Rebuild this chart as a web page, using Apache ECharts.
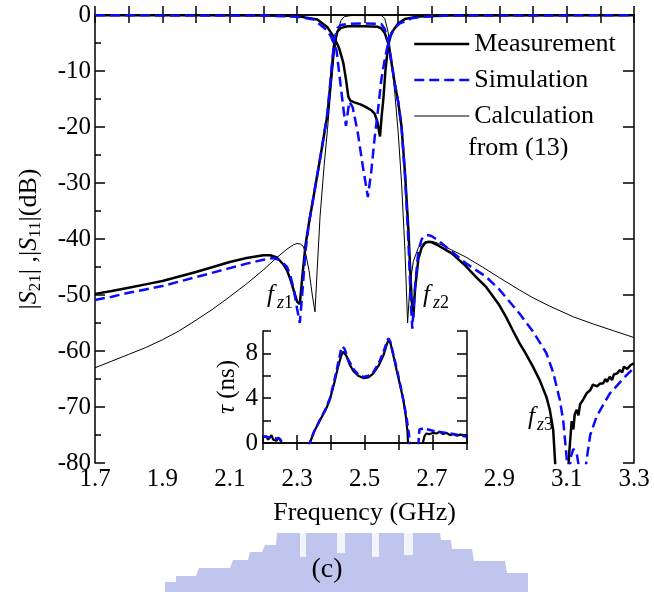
<!DOCTYPE html>
<html>
<head>
<meta charset="utf-8">
<script src="https://cdn.jsdelivr.net/npm/echarts@6/dist/echarts.min.js"></script>
<style>
  html, body { margin: 0; padding: 0; background: #fff; }
  #main { width: 654px; height: 592px; }
</style>
</head>
<body>
<div id="main"></div>
<script>
// ---- data (GHz, dB / ns) ----
const measS21F = [1.70,1.75,1.80,1.85,1.90,1.95,2.00,2.05,2.10,2.15,2.20,2.22,2.24,2.26,2.27,2.28,2.29,2.30,2.308,2.315,2.325,2.335,2.35,2.37,2.39,2.40,2.41,2.42,2.43,2.45,2.50,2.54,2.55,2.56,2.57,2.58,2.59,2.60,2.61,2.62,2.63,2.64,2.645,2.65,2.66,2.67,2.68,2.69,2.70,2.72,2.74,2.76,2.80,2.83,2.86,2.90,2.92,2.94,2.96,2.98,3.00,3.02,3.04,3.05,3.06,3.07,3.08,3.09,3.10,3.108,3.115,3.12,3.124,3.13,3.135,3.14,3.148,3.155,3.16,3.17,3.178,3.19,3.20,3.208,3.215,3.22,3.228,3.235,3.24,3.25,3.258,3.265,3.27,3.28,3.29,3.30];
const measS21 = [-49.8,-49.3,-48.7,-48.1,-47.5,-46.7,-45.9,-45.0,-44.1,-43.4,-42.9,-42.9,-43.3,-44.6,-45.6,-47.2,-49.2,-51.2,-51.6,-47,-41,-37.2,-32,-25,-17.8,-11.5,-5,-2.9,-2.3,-2.0,-2.0,-2.1,-2.4,-3.2,-5,-8.5,-12.3,-15.5,-20,-28,-38,-51,-54,-49,-43.5,-41.5,-40.7,-40.5,-40.6,-41.2,-41.9,-42.6,-44.8,-46.7,-48.5,-51.8,-53.9,-56.3,-58.6,-60.6,-62.8,-65.2,-68.2,-70.5,-74,-84,-95,-95,-86,-78,-72.5,-74,-71.3,-70.5,-71.5,-69.5,-68.8,-68,-67.5,-67,-66,-66.3,-65.8,-65.8,-65,-65.5,-64.6,-65.2,-64.2,-64.0,-63.4,-63.8,-62.8,-63.2,-62.5,-62.2];

const measS11F = [1.70,2.00,2.20,2.30,2.36,2.39,2.41,2.425,2.437,2.445,2.452,2.458,2.47,2.49,2.506,2.52,2.53,2.538,2.546,2.551,2.556,2.562,2.57,2.58,2.60,2.62,2.66,2.75,3.30];
const measS11 = [-0.05,-0.05,-0.1,-0.2,-0.8,-2.2,-4.0,-6,-8.5,-11.5,-14.6,-15.3,-15.6,-16.0,-16.5,-17.0,-17.6,-19,-21.7,-18,-15,-10,-5.5,-3.2,-1.5,-0.7,-0.25,-0.1,-0.05];

const simS21F = [1.70,1.75,1.80,1.85,1.90,1.95,2.00,2.05,2.10,2.15,2.20,2.23,2.25,2.27,2.28,2.29,2.30,2.308,2.315,2.325,2.335,2.35,2.37,2.39,2.40,2.41,2.42,2.43,2.45,2.50,2.55,2.56,2.57,2.58,2.59,2.60,2.61,2.62,2.63,2.638,2.642,2.648,2.66,2.67,2.68,2.69,2.70,2.72,2.76,2.80,2.86,2.90,2.96,3.00,3.04,3.06,3.08,3.09,3.10,3.105,3.112,3.12,3.13,3.14,3.15,3.158,3.17,3.189,3.228,3.278,3.30];
const simS21 = [-50.9,-50.3,-49.6,-49.0,-48.4,-47.6,-46.8,-46.0,-45.2,-44.4,-43.7,-43.4,-43.8,-45.0,-46.5,-49,-52.5,-55,-50,-42,-37.2,-32,-25,-17.5,-11,-4.5,-2.3,-1.8,-1.6,-1.5,-1.6,-2.5,-4.5,-8.3,-12.3,-15.5,-20,-28.5,-40,-52,-56,-50,-42,-40,-39.4,-39.3,-39.5,-40.3,-42.3,-44.3,-46.7,-49,-53.3,-56.5,-60.4,-63.8,-68.8,-72.5,-79,-85,-79,-77.5,-78.3,-82,-88,-80,-75,-71.7,-67.6,-64.3,-63];

const simS11F = [1.70,2.20,2.30,2.35,2.388,2.40,2.417,2.43,2.44,2.445,2.45,2.455,2.465,2.48,2.495,2.51,2.52,2.53,2.54,2.55,2.56,2.566,2.575,2.59,2.605,2.64,2.675,2.75,3.30];
const simS11 = [-0.05,-0.1,-0.3,-0.8,-2.7,-3.8,-6.3,-13,-18,-19.8,-17.5,-15.5,-16.5,-21,-27,-32.5,-28,-22,-17,-11.5,-8,-6.2,-3.9,-2.3,-1.5,-0.6,-0.3,-0.1,-0.05];

const calcS21F = [1.70,1.75,1.80,1.85,1.90,1.95,2.00,2.05,2.10,2.15,2.20,2.24,2.27,2.29,2.30,2.31,2.318,2.325,2.335,2.345,2.353,2.36,2.368,2.38,2.39,2.40,2.41,2.42,2.43,2.44,2.46,2.55,2.56,2.57,2.58,2.59,2.60,2.61,2.62,2.628,2.635,2.645,2.66,2.68,2.70,2.72,2.76,2.80,2.85,2.90,2.96,3.00,3.05,3.12,3.18,3.24,3.30];
const calcS21 = [-63.0,-61.8,-60.6,-59.4,-58.0,-56.4,-54.5,-52.5,-50.3,-48.0,-45.5,-43.3,-41.8,-41.0,-40.8,-40.9,-41.3,-42.5,-45.5,-50,-53,-45,-36,-27,-20.5,-13.5,-7,-3,-1,-0.3,-0.1,-0.1,-0.6,-3,-8,-14,-21,-30,-42,-55,-48,-44,-41.5,-40.5,-40.4,-40.8,-42,-43.2,-45.0,-46.9,-49.1,-50.5,-52.0,-53.9,-55.2,-56.4,-57.6];

const measTauF = [2.20,2.205,2.21,2.215,2.22,2.225,2.23,2.24,2.245,2.25,2.255,2.265,2.33,2.338,2.35,2.368,2.385,2.397,2.41,2.42,2.43,2.436,2.445,2.455,2.466,2.48,2.495,2.51,2.524,2.54,2.554,2.565,2.569,2.575,2.585,2.593,2.603,2.613,2.62,2.625,2.628,2.66,2.67,2.675,2.68,2.69,2.70,2.71,2.72,2.73,2.74,2.75,2.76,2.77,2.78,2.79,2.80];
const measTau = [0.5,0.4,0.6,0.3,0.5,0.7,0.3,0.2,0.5,0.3,0,-2,-2,0,1.0,2.05,3.0,3.9,5.4,6.7,7.8,8.15,7.8,7.0,6.4,6.0,5.8,5.85,6.2,6.9,7.8,8.9,9.2,8.9,7.6,6.5,5.2,3.8,2.4,1.0,-1,-2,0,0.6,0.85,0.8,0.9,0.85,1.0,0.8,0.9,0.7,0.8,0.65,0.75,0.7,0.7];

const simTauF = [2.20,2.22,2.24,2.25,2.258,2.265,2.33,2.337,2.35,2.368,2.385,2.397,2.41,2.42,2.43,2.434,2.44,2.45,2.466,2.48,2.495,2.51,2.524,2.54,2.554,2.565,2.569,2.575,2.585,2.593,2.605,2.615,2.623,2.63,2.633,2.645,2.655,2.66,2.671,2.70,2.73,2.76,2.78,2.80];
const simTau = [0.6,0.5,0.4,0.35,0,-2,-2,0,1.0,2.1,3.1,4.0,5.6,7.0,8.4,8.6,8.4,7.5,6.6,6.1,5.9,6.0,6.3,7.1,8.1,9.1,9.35,9.0,7.7,6.7,5.0,3.5,2.1,0.6,-2,-2,-1,1.2,1.3,1.1,0.95,0.8,0.7,0.55];

const xTicksMain = { min: 1.7, max: 3.3, step: 0.1 };
const yTicksMain = { min: -80, max: 0, step: 10 };
const xTicksInset = { min: 2.2, max: 2.8, step: 0.1 };
const yTicksInset = { min: 0, max: 10, step: 2 };
const insetLabels = [0, 4, 8];

const FONT = 'Liberation Serif';
const BLUE = '#0a0aff';

function zip(xs, ys) {
  return xs.map((x, i) => [x, ys[i]]);
}

const axisLine = { lineStyle: { color: '#000', width: 1.5 } };
const tick = (len) => ({ inside: true, length: len, lineStyle: { color: '#000', width: 1.5 } });
const lbl = { color: '#000', fontFamily: FONT, fontSize: 25 };

const chart = echarts.init(document.getElementById('main'), null, { renderer: 'canvas' });

const option = {
  animation: false,
  backgroundColor: '#fff',
  grid: [
    { left: 95, top: 15, width: 539, height: 448, show: false },
    { left: 263, top: 331, width: 204, height: 112, show: true, backgroundColor: '#fff', borderWidth: 0, z: 10 }
  ],
  legend: {
    orient: 'vertical',
    left: 408,
    top: 24,
    itemWidth: 55,
    itemHeight: 14,
    itemGap: 6,
    selectedMode: false,
    itemStyle: { opacity: 0 },
    data: [
      { name: 'Measurement', lineStyle: { color: '#000', width: 2.5 } },
      { name: 'Simulation', lineStyle: { color: BLUE, width: 2.5, type: [10, 5] } },
      { name: 'Calculation', lineStyle: { color: '#000', width: 1 } }
    ],
    textStyle: { color: '#000', fontFamily: FONT, fontSize: 26, lineHeight: 30 }
  },
  xAxis: [
    {
      type: 'value', gridIndex: 0, position: 'bottom',
      min: xTicksMain.min, max: xTicksMain.max, interval: xTicksMain.step,
      axisLine: axisLine, axisTick: tick(9), splitLine: { show: false },
      axisLabel: Object.assign({}, lbl, {
        margin: 4,
        formatter: (v) => (Math.round(v * 10) % 2 === 1 ? v.toFixed(1) : '')
      }),
      name: 'Frequency (GHz)', nameLocation: 'middle', nameGap: 37,
      nameTextStyle: { color: '#000', fontFamily: FONT, fontSize: 26 }
    },
    {
      type: 'value', gridIndex: 0, position: 'top',
      min: xTicksMain.min, max: xTicksMain.max, interval: xTicksMain.step,
      axisLine: axisLine, axisTick: tick(8), axisLabel: { show: false }, splitLine: { show: false }
    },
    {
      type: 'value', gridIndex: 1, position: 'bottom', z: 11,
      min: xTicksInset.min, max: xTicksInset.max, interval: xTicksInset.step,
      axisLine: axisLine, axisTick: tick(8), axisLabel: { show: false }, splitLine: { show: false }
    },
    {
      type: 'value', gridIndex: 1, position: 'top', z: 11,
      min: xTicksInset.min, max: xTicksInset.max, interval: xTicksInset.step,
      axisLine: axisLine, axisTick: tick(7), axisLabel: { show: false }, splitLine: { show: false }
    }
  ],
  yAxis: [
    {
      type: 'value', gridIndex: 0, position: 'left',
      min: yTicksMain.min, max: yTicksMain.max, interval: yTicksMain.step,
      axisLine: axisLine, axisTick: tick(10),
      minorTick: { show: true, splitNumber: 2, length: 6, lineStyle: { color: '#000', width: 1.5 } },
      splitLine: { show: false },
      axisLabel: Object.assign({}, lbl, { margin: 4 }),
      name: '{b||}{i|S}{s|21}{b|| ,|}{i|S}{s|11}{b||(dB)}',
      nameLocation: 'middle', nameGap: 51, nameRotate: 90,
      nameTextStyle: {
        color: '#000', fontFamily: FONT, fontSize: 26,
        rich: {
          b: { fontFamily: FONT, fontSize: 26, lineHeight: 30, color: '#000' },
          i: { fontFamily: FONT, fontSize: 26, lineHeight: 30, fontStyle: 'italic', color: '#000' },
          s: { fontFamily: FONT, fontSize: 17, lineHeight: 30, verticalAlign: 'bottom', color: '#000' }
        }
      }
    },
    {
      type: 'value', gridIndex: 0, position: 'right',
      min: yTicksMain.min, max: yTicksMain.max, interval: yTicksMain.step,
      axisLine: axisLine, axisTick: tick(11), axisLabel: { show: false }, splitLine: { show: false }
    },
    {
      type: 'value', gridIndex: 1, position: 'left', z: 11,
      min: yTicksInset.min, max: yTicksInset.max, interval: yTicksInset.step,
      axisLine: axisLine, axisTick: tick(8), splitLine: { show: false },
      axisLabel: Object.assign({}, lbl, {
        margin: 5,
        formatter: (v) => (insetLabels.indexOf(Math.round(v)) >= 0 ? String(Math.round(v)) : '')
      }),
      name: '{i|τ} (ns)', nameLocation: 'middle', nameGap: 19, nameRotate: 90,
      nameTextStyle: {
        color: '#000', fontFamily: FONT, fontSize: 25, lineHeight: 28,
        rich: { i: { fontFamily: FONT, fontSize: 25, lineHeight: 28, fontStyle: 'italic', color: '#000' } }
      }
    },
    {
      type: 'value', gridIndex: 1, position: 'right', z: 11,
      min: yTicksInset.min, max: yTicksInset.max, interval: yTicksInset.step,
      axisLine: axisLine, axisTick: tick(10), axisLabel: { show: false }, splitLine: { show: false }
    }
  ],
  series: [
    {
      name: 'Calculation', type: 'line', xAxisIndex: 0, yAxisIndex: 0,
      data: zip(calcS21F, calcS21), symbol: 'none', showSymbol: false, z: 2,
      lineStyle: { color: '#000', width: 1 }, itemStyle: { color: '#000' }
    },
    {
      name: 'Measurement', type: 'line', xAxisIndex: 0, yAxisIndex: 0,
      data: zip(measS21F, measS21), symbol: 'none', showSymbol: false, z: 3,
      lineStyle: { color: '#000', width: 2.5 }, itemStyle: { color: '#000' }
    },
    {
      name: 'Measurement', type: 'line', xAxisIndex: 0, yAxisIndex: 0,
      data: zip(measS11F, measS11), symbol: 'none', showSymbol: false, z: 3,
      lineStyle: { color: '#000', width: 2.5 }, itemStyle: { color: '#000' }
    },
    {
      name: 'Simulation', type: 'line', xAxisIndex: 0, yAxisIndex: 0,
      data: zip(simS21F, simS21), symbol: 'none', showSymbol: false, z: 4,
      lineStyle: { color: BLUE, width: 2.5, type: [10, 5] }, itemStyle: { color: BLUE }
    },
    {
      name: 'Simulation', type: 'line', xAxisIndex: 0, yAxisIndex: 0,
      data: zip(simS11F, simS11), symbol: 'none', showSymbol: false, z: 4,
      lineStyle: { color: BLUE, width: 2.5, type: [10, 5] }, itemStyle: { color: BLUE }
    },
    {
      name: 'Measurement', type: 'line', xAxisIndex: 2, yAxisIndex: 2,
      data: zip(measTauF, measTau), symbol: 'none', showSymbol: false, z: 12,
      lineStyle: { color: '#000', width: 2.2 }, itemStyle: { color: '#000' }
    },
    {
      name: 'Simulation', type: 'line', xAxisIndex: 2, yAxisIndex: 2,
      data: zip(simTauF, simTau), symbol: 'none', showSymbol: false, z: 13,
      lineStyle: { color: BLUE, width: 2.5, type: [8, 4] }, itemStyle: { color: BLUE }
    }
  ],
  graphic: [
    // second line of the third legend entry
    { type: 'text', left: 468, top: 135, z: 20,
      style: { text: 'from (13)', fontFamily: FONT, fontSize: 26, fill: '#000' } },
    // zero labels
    { type: 'text', left: 267, top: 283, z: 20,
      style: { text: 'f', fontFamily: FONT, fontSize: 25, fontStyle: 'italic', fill: '#000' } },
    { type: 'text', left: 277, top: 294, z: 20,
      style: { text: '{i|z}1', fontFamily: FONT, fontSize: 18, fill: '#000',
        rich: { i: { fontFamily: FONT, fontSize: 18, fontStyle: 'italic', fill: '#000' } } } },
    { type: 'text', left: 423, top: 283, z: 20,
      style: { text: 'f', fontFamily: FONT, fontSize: 25, fontStyle: 'italic', fill: '#000' } },
    { type: 'text', left: 433, top: 294, z: 20,
      style: { text: '{i|z}2', fontFamily: FONT, fontSize: 18, fill: '#000',
        rich: { i: { fontFamily: FONT, fontSize: 18, fontStyle: 'italic', fill: '#000' } } } },
    { type: 'text', left: 528, top: 405, z: 20,
      style: { text: 'f', fontFamily: FONT, fontSize: 25, fontStyle: 'italic', fill: '#000' } },
    { type: 'text', left: 537, top: 416, z: 20,
      style: { text: '{i|z}3', fontFamily: FONT, fontSize: 18, fill: '#000',
        rich: { i: { fontFamily: FONT, fontSize: 18, fontStyle: 'italic', fill: '#000' } } } },
    // faded watermark behind the caption
    { type: 'polygon', z: 1, silent: true,
      shape: { points: [[165,592],[165,582],[176,582],[176,576],[196,576],[199,568],[230,568],[233,560],[248,560],[250,552],[262,552],[265,545],[276,545],[277,533],[440,533],[441,540],[451,540],[452,549],[472,549],[474,561],[505,561],[507,573],[528,573],[528,592]] },
      style: { fill: '#a9b2e6', opacity: 0.75 } },
    { type: 'rect', z: 1, silent: true, shape: { x: 300, y: 533, width: 6, height: 24 }, style: { fill: '#fff', opacity: 0.8 } },
    { type: 'rect', z: 1, silent: true, shape: { x: 337, y: 533, width: 8, height: 20 }, style: { fill: '#fff', opacity: 0.8 } },
    { type: 'rect', z: 1, silent: true, shape: { x: 372, y: 533, width: 7, height: 24 }, style: { fill: '#fff', opacity: 0.8 } },
    { type: 'rect', z: 1, silent: true, shape: { x: 404, y: 533, width: 9, height: 22 }, style: { fill: '#fff', opacity: 0.8 } },
    { type: 'text', left: 'center', top: 556, z: 20,
      style: { text: '(c)', fontFamily: FONT, fontSize: 28, fill: '#000' } }
  ]
};

chart.setOption(option);
</script>
</body>
</html>
